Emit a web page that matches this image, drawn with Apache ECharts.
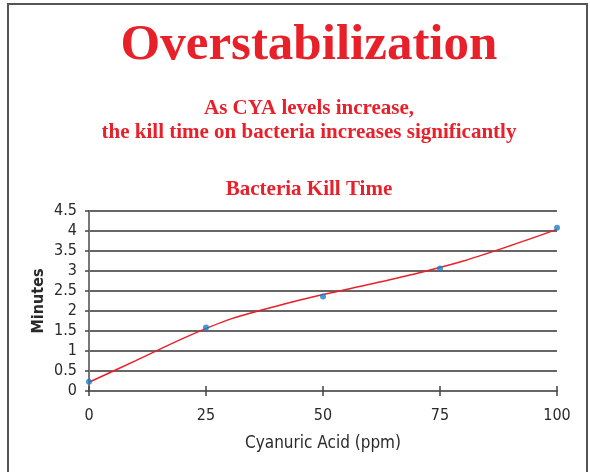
<!DOCTYPE html>
<html><head><meta charset="utf-8">
<script src="https://cdn.jsdelivr.net/npm/echarts@6/dist/echarts.min.js"></script>
<style>html,body{margin:0;padding:0;background:#fff}#c{width:590px;height:472px}</style>
</head><body><div id="c"></div>
<script>
const mainTitle = "Overstabilization";
const subtitleLines = ["As CYA levels increase,", "the kill time on bacteria increases significantly"];
const chartTitle = "Bacteria Kill Time";
const xName = "Cyanuric Acid (ppm)";
const yName = "Minutes";
const cyaPpm = [0, 25, 50, 75, 100];
const killMinutes = [0.23, 1.59, 2.36, 3.06, 4.08];
const trendX = [0, 10, 20, 30, 40, 50, 60, 70, 80, 90, 100];
const trendY = [0.22, 0.76, 1.31, 1.79, 2.12, 2.41, 2.67, 2.94, 3.25, 3.63, 4.04];

const red = '#e8202a';
const chart = echarts.init(document.getElementById('c'));
const serif = '"Liberation Serif", "Times New Roman", serif';
const narrow = '"DejaVu Sans Condensed", "Liberation Sans Narrow", Arial, sans-serif';
chart.setOption({
  animation: false,
  title: [
    {text: mainTitle, left: 304, textAlign: 'center', top: 15,
     textStyle: {fontFamily: serif, fontWeight: 'bold', fontSize: 51, color: red}},
    {text: subtitleLines.join('\n'), left: 304, textAlign: 'center', top: 92,
     textStyle: {fontFamily: serif, fontWeight: 'bold', fontSize: 21, color: red, lineHeight: 24}},
    {text: chartTitle, left: 304, textAlign: 'center', top: 174,
     textStyle: {fontFamily: serif, fontWeight: 'bold', fontSize: 21, color: red}}
  ],
  graphic: [{type: 'rect', shape: {x: 8, y: 4, width: 579, height: 480},
    style: {fill: 'none', stroke: '#555', lineWidth: 2}, silent: true}],
  grid: {left: 89, right: 33, top: 211, bottom: 81},
  xAxis: [{
    type: 'value', min: 0, max: 100, interval: 25,
    name: xName, nameLocation: 'middle', nameGap: 44,
    nameTextStyle: {fontFamily: narrow, fontSize: 17, color: '#2a2a2a'},
    axisLine: {show: true, lineStyle: {color: '#666', width: 2}},
    axisTick: {show: true, length: 5, lineStyle: {color: '#444', width: 1.5}},
    axisLabel: {fontFamily: narrow, fontSize: 16, color: '#2a2a2a', margin: 17},
    splitLine: {show: false}
  }, {
    type: 'value', min: 0, max: 100, interval: 25, position: 'bottom', offset: 0,
    axisLine: {show: false},
    axisTick: {show: true, inside: true, length: 5, lineStyle: {color: '#444', width: 1.5}},
    axisLabel: {show: false}, splitLine: {show: false}
  }],
  yAxis: [{
    type: 'value', min: 0, max: 4.5, interval: 0.5,
    name: yName, nameLocation: 'middle', nameGap: 42, nameRotate: 90, nameMoveOverlap: false,
    nameTextStyle: {fontFamily: narrow, fontSize: 16, fontWeight: 'bold', color: '#2a2a2a'},
    axisLine: {show: true, lineStyle: {color: '#666', width: 2}},
    axisTick: {show: true, length: 4, lineStyle: {color: '#444', width: 1.5}},
    axisLabel: {fontFamily: narrow, fontSize: 16, color: '#2a2a2a', margin: 12},
    splitLine: {show: true, lineStyle: {color: '#333', width: 1.5}}
  }, {
    type: 'value', min: 0, max: 4.5, interval: 0.5, position: 'right',
    axisLine: {show: true, lineStyle: {color: '#777', width: 2}},
    axisTick: {show: false}, axisLabel: {show: false}, splitLine: {show: false}
  }],
  series: [{
    type: 'line', data: trendX.map((x, i) => [x, trendY[i]]), smooth: 0.3,
    showSymbol: false, lineStyle: {color: red, width: 1.5}, z: 3
  }, {
    type: 'scatter', data: cyaPpm.map((x, i) => [x, killMinutes[i]]),
    symbol: 'circle', symbolSize: 6, itemStyle: {color: '#1a7fc9'}, z: 4
  }]
});
</script></body></html>
